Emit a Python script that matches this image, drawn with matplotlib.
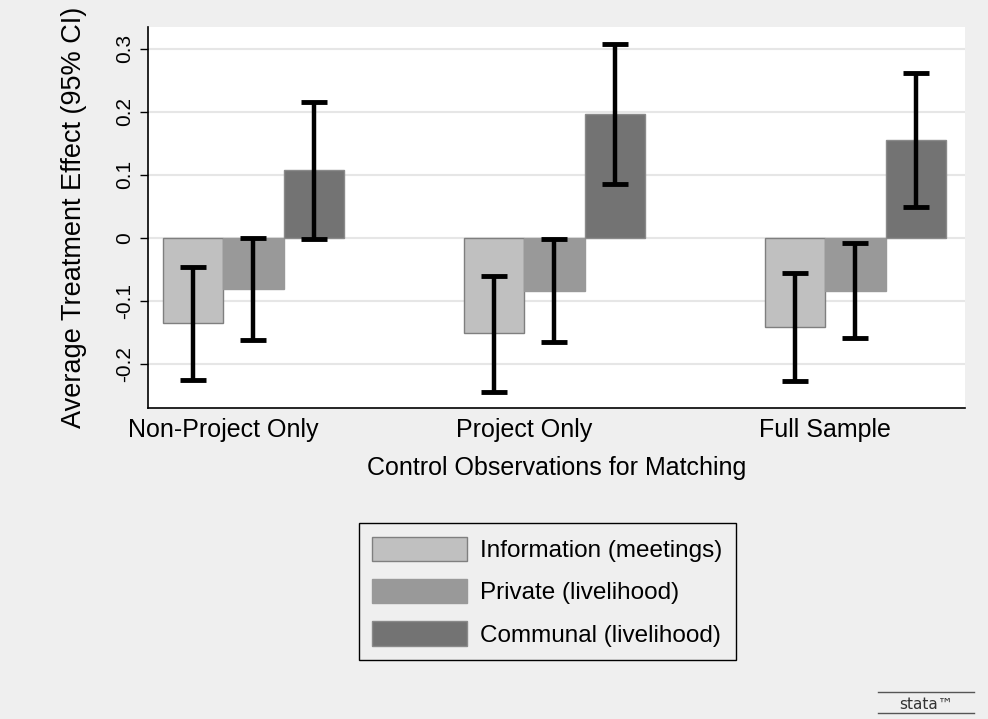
"""Average treatment effect by control sample, Stata-style bar chart with CIs."""

import matplotlib

matplotlib.use("Agg")
import matplotlib.pyplot as plt
from matplotlib.lines import Line2D
import numpy as np

plt.rcParams["font.family"] = ["Liberation Sans", "DejaVu Sans"]

GROUPS = ["Non-Project Only", "Project Only", "Full Sample"]
SERIES = ["Information (meetings)", "Private (livelihood)", "Communal (livelihood)"]

# point estimates, one list per series (order matches GROUPS)
info_ate = [-0.136, -0.152, -0.141]
private_ate = [-0.082, -0.085, -0.085]
communal_ate = [0.107, 0.197, 0.155]

# 95% CI bounds
info_lo = [-0.226, -0.245, -0.227]
info_hi = [-0.046, -0.060, -0.056]
private_lo = [-0.163, -0.166, -0.159]
private_hi = [0.000, -0.002, -0.009]
communal_lo = [-0.002, 0.085, 0.048]
communal_hi = [0.216, 0.308, 0.261]

Y_TICKS = [-0.2, -0.1, 0, 0.1, 0.2, 0.3]
Y_TICK_LABELS = ["-0.2", "-0.1", "0", "0.1", "0.2", "0.3"]

FILLS = ["#c0c0c0", "#999999", "#737373"]
EDGES = ["#7f7f7f", "#999999", "#8a8a8a"]
BG = "#efefef"

fig = plt.figure(figsize=(9.88, 7.19), dpi=100, facecolor=BG)
ax = fig.add_axes([0.1498, 0.4325, 0.8269, 0.5299])
ax.set_facecolor("white")

x = np.arange(len(GROUPS))
width = 0.201
estimates = [info_ate, private_ate, communal_ate]
lows = [info_lo, private_lo, communal_lo]
highs = [info_hi, private_hi, communal_hi]

for j, (name, vals, lo, hi) in enumerate(zip(SERIES, estimates, lows, highs)):
    pos = x + (j - 1) * width
    vals = np.asarray(vals)
    ax.bar(pos, vals, width=width, color=FILLS[j], edgecolor=EDGES[j],
           linewidth=1.0, label=name, zorder=2)
    mid = (np.asarray(lo) + np.asarray(hi)) / 2
    err = (np.asarray(hi) - np.asarray(lo)) / 2
    ax.errorbar(pos, mid, yerr=err, fmt="none", ecolor="black",
                elinewidth=3.2, capsize=9.5, capthick=3.5, zorder=3)

ax.set_xlim(-0.3505, 2.364)
ax.set_ylim(-0.2703, 0.3344)
ax.set_yticks(Y_TICKS)
ax.set_yticklabels(Y_TICK_LABELS, rotation=90, va="center", fontsize=15)
ax.tick_params(axis="y", length=6, width=1, pad=4)
# Stata centres the category labels between the first two bars
ax.set_xticks(x - width / 2)
ax.set_xticklabels(GROUPS, fontsize=18)
ax.tick_params(axis="x", length=0, pad=7)
ax.yaxis.grid(True, color="#e6e6e6", linewidth=1.5, zorder=0)
ax.set_axisbelow(True)

for side in ("top", "right"):
    ax.spines[side].set_visible(False)
for side in ("left", "bottom"):
    ax.spines[side].set_linewidth(1.2)

ax.set_xlabel("Control Observations for Matching", fontsize=18, labelpad=10)
ax.set_ylabel("Average Treatment Effect (95% CI)", fontsize=19.5, labelpad=20)

fig.legend(
    loc="center",
    bbox_to_anchor=(0.554, 0.177),
    fontsize=17.5,
    ncol=1,
    frameon=True,
    fancybox=False,
    edgecolor="black",
    facecolor=BG,
    framealpha=1.0,
    handlelength=3.9,
    handleheight=1.15,
    labelspacing=0.7,
    handletextpad=0.55,
    borderpad=0.55,
    borderaxespad=0.0,
).get_frame().set_linewidth(1.0)

# stata logo, bottom right
fig.text(0.9375, 0.0195, "stata\u2122", fontsize=11, ha="center", va="center",
         color="#333333", family=["DejaVu Sans"])
for yy in (0.0375, 0.0085):
    fig.add_artist(Line2D([0.889, 0.986], [yy, yy], transform=fig.transFigure,
                          color="#555555", linewidth=1.0))

fig.savefig("out.png", dpi=100, facecolor=BG)
